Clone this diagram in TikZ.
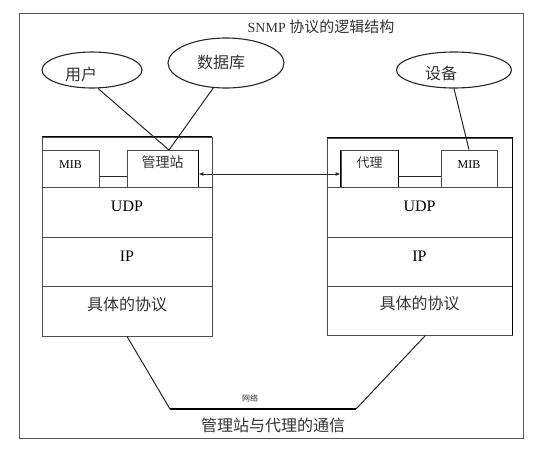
\documentclass[tikz,border=0pt]{standalone}
\usepackage{fontspec}
\setmainfont{Liberation Serif}
\newfontfamily\cjk{Noto Sans CJK SC}
\usetikzlibrary{shapes.geometric,fit,arrows.meta}
\begin{document}
\begin{tikzpicture}[x=1pt,y=-1pt,
  cell/.style={draw=black!70, line width=0.8pt, inner sep=0pt, rectangle},
  row/.style={cell, text depth=8pt},
  ell/.style={draw=black!85, line width=1.1pt, ellipse, inner sep=0pt},
  wire/.style={draw=black!85, line width=1pt},
  heavy/.style={draw=black, line width=1.6pt},
  fs/.style={font=\fontsize{#1}{#1}\selectfont},
  cfs/.style={font=\cjk\fontsize{#1}{#1}\selectfont, text=black!80},
  ]
\useasboundingbox (0,0) rectangle (554,448);
\node[draw=black!65, line width=1pt, inner sep=0pt, fit={(19,13) (523,438)}] (frame) {};
\node[fs=14, text=black!80] (title) at (321,27) {SNMP {\cjk\fontsize{15}{15}\selectfont 协议的逻辑结构}};

% left stack
\node[cell, fit={(42,137) (212,187)}] (ltop) {};
\node[row, fs=16, fit={(42,187) (212,237)}] (ludp) {UDP};
\node[row, fs=16, fit={(42,237) (212,286)}] (lip) {IP};
\node[row, cfs=16, fit={(42,286) (212,336)}] (lproto) {具体的协议};
\node[cell, fs=12, fit={(42,150) (99,187)}] (lmib) {MIB};
\node[cell, cfs=14, fit={(127,150) (198,187)}] (mgr) {管理站};

% right stack
\node[cell, fit={(327,138) (512,187)}] (rtop) {};
\node[row, fs=16, fit={(327,187) (512,237)}] (rudp) {UDP};
\node[row, fs=16, fit={(327,237) (512,286)}] (rip) {IP};
\node[row, cfs=16, fit={(327,286) (512,335)}] (rproto) {具体的协议};
\node[cell, cfs=13, fit={(341,150) (398,187)}] (agent) {代理};
\node[cell, fs=12, fit={(441,150) (497,187)}] (rmib) {MIB};

% heavy edges
\draw[heavy] (ltop.north west) -- (ltop.north east);
\draw[heavy] (mgr.north east) -- (mgr.south east);
\draw[heavy] (agent.north west) -- (agent.south west);
\draw[heavy] (agent.north east) -- (agent.south east);
\draw[heavy] (rtop.north west) -- (rtop.north east) -- (rproto.south east);

% inner links
\draw[wire] ([yshift=-7.5pt]lmib.east) -- ([yshift=-7.5pt]mgr.west);
\draw[wire] ([yshift=-7.5pt]agent.east) -- ([yshift=-7.5pt]rmib.west);
\draw[wire, {Latex[length=5pt,width=4pt]}-{Latex[length=5pt,width=4pt]}]
  ([yshift=-5.5pt]mgr.east) -- ([yshift=-5.5pt]agent.west);

% ellipses
\node[ell, minimum width=100pt, minimum height=36pt] (user) at (92,70) {};
\node[cfs=16] (userT) at (81,74) {用户};
\node[ell, minimum width=116pt, minimum height=50pt] (db) at (226,63) {};
\node[cfs=16] (dbT) at (221,62) {数据库};
\node[ell, minimum width=115pt, minimum height=36pt] (dev) at (454,70) {};
\node[cfs=16] (devT) at (441,73) {设备};

\coordinate (mgrtop) at (169,150);
\draw[wire] (user.-72) -- (mgrtop) -- (db.-117);
\draw[wire] (dev.south) -- (rmib.north);

% network
\coordinate (netL) at (170,409);
\coordinate (netR) at (356,409);
\draw[wire] (lproto.south) -- (netL);
\draw[black, line width=2pt] (netL) -- (netR);
\draw[wire] (netR) -- ([xshift=6pt]rproto.south);
\node[cfs=8] (net) at (250,398) {网络};
\node[cfs=16] (caption) at (273,425) {管理站与代理的通信};
\end{tikzpicture}
\end{document}
